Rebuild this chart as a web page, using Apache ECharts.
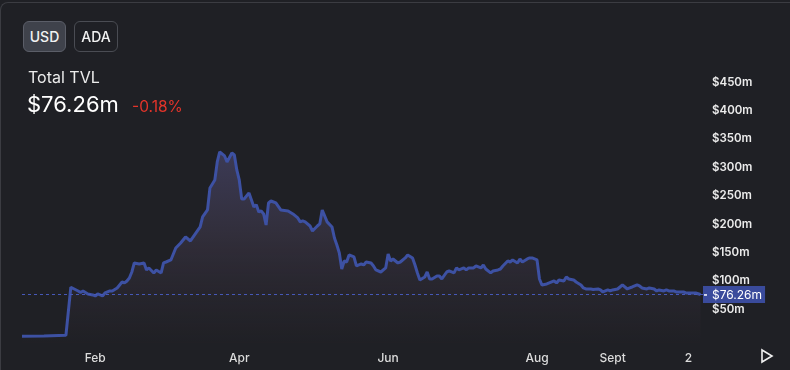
<!DOCTYPE html>
<html>
<head>
<meta charset="utf-8">
<script src="https://cdn.jsdelivr.net/npm/echarts@6/dist/echarts.min.js"></script>
<style>
  html, body { margin: 0; padding: 0; background: #1f2025; }
  #wrap { position: relative; width: 790px; height: 370px; overflow: hidden; background: #1f2025; }
  #card { position: absolute; left: 0; top: 2px; width: 800px; height: 400px; border-top: 1px solid #3b3c42; border-left: 1px solid #3b3c42; border-top-left-radius: 8px; box-sizing: border-box; }
  #chart { position: absolute; left: 0; top: 0; width: 790px; height: 370px; }
  .btn { position: absolute; top: 21px; height: 31px; box-sizing: border-box; border-radius: 6px; font: 500 14px Inter, "Noto Sans", sans-serif; color: #f2f2f2; display: flex; align-items: center; justify-content: center; }
  #usd { left: 23px; width: 43px; background: #3f424b; border: 1px solid #5b5e68; }
  #ada { left: 74px; width: 44px; background: transparent; border: 1px solid #4a4c53; }
  #title { position: absolute; left: 28px; top: 67px; font: 400 16px Inter, "Noto Sans", sans-serif; color: #ececec; }
  #value { position: absolute; left: 27px; top: 91px; font: 400 22px Inter, "Noto Sans", sans-serif; color: #ffffff; }
  #change { position: absolute; left: 132px; top: 97px; font: 400 15.5px Inter, "Noto Sans", sans-serif; color: #e3342a; }
</style>
</head>
<body>
<div id="wrap">
  <div id="card"></div>
  <div id="chart"></div>
  <div class="btn" id="usd">USD</div>
  <div class="btn" id="ada">ADA</div>
  <div id="title">Total TVL</div>
  <div id="value">$76.26m</div>
  <div id="change">-0.18%</div>
</div>
<script>
// Day-of-year offsets (Jan 1 = 0) and TVL in millions USD
const days = [1,10,19,21,24,25,26,28,30,31,32,33,34,35,37,38,40,41,42,43,44,45,46,47,49,51,52,53,55,56,58,59,60,62,64,66,68,70,72,74,75,77,78,80,81,82,84,85,87,88,89,90,91,92,94,96,97,98,99,100,101,102,103,105,107,110,112,114,115,116,117,119,120,122,123,124,126,128,129,130,131,132,133,134,135,137,138,140,141,142,144,145,146,148,150,151,152,153,155,156,158,159,161,162,163,164,166,167,168,169,171,172,173,175,176,178,179,180,182,183,184,186,187,189,190,191,193,194,196,197,198,200,201,202,204,205,206,208,209,210,212,213,214,216,217,219,220,221,223,224,225,227,228,230,231,232,234,235,237,238,239,241,242,243,245,246,247,249,250,251,253,254,255,257,258,260,261,262,264,265,266,268,269,271,272,273,275,276,277,279];
const tvl = [2.6,3.2,4.4,88.9,82.4,79.8,82.4,77.1,75.4,73.6,77.1,75.4,73.6,78.9,82.4,82.4,87.7,93.0,98.2,96.5,100.0,105.3,115.8,131.7,129.9,131.7,119.4,122.9,114.1,119.4,114.1,131.7,133.4,137.0,158.1,166.9,177.5,170.4,182.8,195.1,212.7,225.0,263.8,277.8,309.5,327.1,320.1,309.5,325.3,321.8,295.4,277.8,244.4,244.4,255.0,230.4,234.0,221.5,223.3,218.0,198.6,237.3,240.8,237.3,225.0,223.3,218.0,211.0,204.0,205.7,204.0,196.8,188.0,196.8,200.4,225.0,204.0,195.1,175.7,163.4,149.3,121.1,135.2,133.4,145.8,142.3,126.4,129.9,128.2,133.4,131.7,126.4,119.4,115.8,122.9,147.5,135.2,138.7,131.7,133.4,140.5,145.8,140.5,128.2,114.1,101.8,107.0,115.8,103.5,103.5,108.8,108.8,103.5,115.8,117.6,114.1,122.9,119.4,122.9,119.4,122.9,122.9,126.4,122.9,128.2,121.1,114.1,117.6,119.4,121.1,126.4,135.2,133.4,137.0,131.7,138.7,133.4,138.7,140.5,140.5,137.0,103.5,93.0,94.7,96.5,100.0,96.5,101.8,100.0,107.0,103.5,101.8,98.2,93.0,87.7,85.9,85.9,85.0,85.9,84.2,80.6,84.2,82.4,84.2,85.9,89.4,93.0,85.9,87.7,89.4,93.0,91.2,87.7,85.9,87.7,85.9,82.4,84.2,82.4,84.2,82.4,82.4,80.6,80.6,80.6,78.9,78.9,78.9,78.9,76.26];
const currentValue = 76.26;
// X tick positions (day-of-year) and labels
const xTickDays = [31, 90, 151, 212, 243, 274];
const xTickLabels = ['Feb', 'Apr', 'Jun', 'Aug', 'Sept', '2'];
// Y tick values (millions)
const yTicks = [50, 100, 150, 200, 250, 300, 350, 400, 450];

const chart = echarts.init(document.getElementById('chart'), null, { renderer: 'canvas' });
const seriesData = days.map((d, i) => [d, tvl[i]]);
const font = 'Inter, "Noto Sans", sans-serif';

chart.setOption({
  backgroundColor: 'transparent',
  animation: false,
  grid: { left: 22, right: 87, top: 60, bottom: 27, containLabel: false },
  xAxis: {
    type: 'value',
    min: 1, max: 280,
    axisLine: { show: false },
    axisTick: { show: false },
    splitLine: { show: false },
    axisLabel: {
      customValues: xTickDays,
      formatter: v => xTickLabels[xTickDays.indexOf(v)] || '',
      color: '#dcdcdc', fontSize: 12, fontWeight: 500, fontFamily: font, margin: 9
    }
  },
  yAxis: {
    type: 'value',
    position: 'right',
    min: -9.2, max: 489,
    axisLine: { show: false },
    axisTick: { show: false },
    splitLine: { show: false },
    axisLabel: {
      customValues: yTicks,
      formatter: v => '$' + v + 'm',
      color: '#ececec', fontSize: 11.5, fontWeight: 600, fontFamily: font, margin: 9
    }
  },
  series: [{
    type: 'line',
    data: seriesData,
    showSymbol: false,
    smooth: false,
    lineStyle: { color: '#3d51a3', width: 3 },
    areaStyle: {
      origin: 'start',
      color: new echarts.graphic.LinearGradient(0, 0, 0, 1, [
        { offset: 0, color: 'rgba(80,76,118,0.85)' },
        { offset: 0.45, color: 'rgba(62,55,72,0.85)' },
        { offset: 1, color: 'rgba(34,33,38,0.6)' }
      ])
    },
    markLine: {
      silent: true,
      symbol: 'none',
      data: [{ yAxis: currentValue }],
      lineStyle: { color: '#4658b8', type: [3, 3], width: 1 },
      label: {
        show: true,
        position: 'end',
        distance: 0,
        formatter: '{k|}{v|$' + currentValue.toFixed(2) + 'm}',
        backgroundColor: '#3a4b9c',
        padding: [3, 3, 2, 1],
        rich: {
          k: { width: 3, height: 1.5, backgroundColor: '#ffffff' },
          v: { color: '#ffffff', fontSize: 12, fontFamily: font, padding: [0, 0, 0, 5] }
        }
      }
    }
  }],
  graphic: [{
    type: 'polygon',
    shape: { points: [[762, 350], [772, 356], [762, 362]] },
    style: { fill: 'none', stroke: '#f0f0f0', lineWidth: 1.6 }
  }]
});
</script>
</body>
</html>
